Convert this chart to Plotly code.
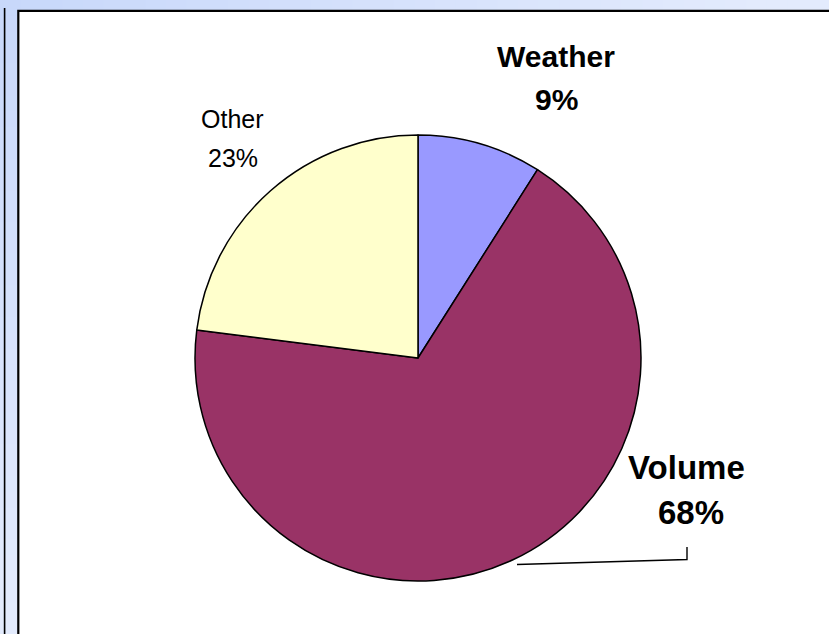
import plotly.graph_objects as go

# Share of the variance by driver
labels = ["Weather", "Volume", "Other"]
values = [9, 68, 23]
colors = ["#9999ff", "#993366", "#ffffcc"]

W, H = 829, 634


def px(x):
    return x / W


def py(y):
    return 1 - y / H


def mix(c1, c2, t):
    a = [int(c1[i:i + 2], 16) for i in (1, 3, 5)]
    b = [int(c2[i:i + 2], 16) for i in (1, 3, 5)]
    return "#" + "".join(f"{round(a[k] + (b[k] - a[k]) * t):02x}" for k in range(3))


BLUE_DARK, BLUE_LIGHT = "#c8d8fa", "#e3ebfd"

shapes = []
# slide backdrop: soft blue gradient strips along the top and left edges
n = 40
for i in range(n):
    t0, t1 = i / n, (i + 1) / n
    shapes.append(dict(type="rect", xref="paper", yref="paper", layer="below",
                       x0=t0, x1=t1 + 0.002, y0=py(12), y1=1,
                       fillcolor=mix(BLUE_DARK, BLUE_LIGHT, min(1, t0 * 1.1)),
                       line=dict(width=0)))
    shapes.append(dict(type="rect", xref="paper", yref="paper", layer="below",
                       x0=0, x1=px(19), y0=1 - t1 - 0.002, y1=1 - t0,
                       fillcolor=mix(BLUE_DARK, BLUE_LIGHT, min(1, t0 * 1.05)),
                       line=dict(width=0)))
# white chart panel with black border on top and left
shapes.append(dict(type="rect", xref="paper", yref="paper", layer="below",
                   x0=px(18.3), x1=1.01, y0=-0.01, y1=py(10.8),
                   fillcolor="white", line=dict(color="black", width=2.2)))
# outer thin rule on the far left
shapes.append(dict(type="line", xref="paper", yref="paper",
                   x0=px(4.6), x1=px(4.6), y0=0, y1=py(8),
                   line=dict(color="black", width=1.6)))
# leader line for the Volume label
shapes.append(dict(type="path", xref="paper", yref="paper",
                   path=f"M {px(517)},{py(564.5)} L {px(687)},{py(559.5)} L {px(687)},{py(547)}",
                   line=dict(color="black", width=1.4)))

total = sum(values)
pct = [f"{v / total * 100:.0f}%" for v in values]

# label placement (name line, percent line) and styling
label_pos = {
    "Weather": ((556, 56), (556, 99), 30, "bold"),
    "Volume": ((686, 467), (691, 512), 33, "bold"),
    "Other": ((232, 119), (233, 158), 25, "normal"),
}

annotations = []
for name, p in zip(labels, pct):
    (x1, y1), (x2, y2), size, weight = label_pos[name]
    for (x, y), txt in (((x1, y1), name), ((x2, y2), p)):
        annotations.append(dict(text=txt, x=px(x), y=py(y), xref="paper", yref="paper",
                                showarrow=False, xanchor="center", yanchor="middle",
                                font=dict(family="Arial, Liberation Sans, sans-serif",
                                          size=size, color="black", weight=weight)))

cx, cy, r = 418, 358, 223
fig = go.Figure(go.Pie(
    labels=labels,
    values=values,
    sort=False,
    direction="clockwise",
    rotation=0,
    textinfo="none",
    hoverinfo="label+percent",
    marker=dict(colors=colors, line=dict(color="black", width=1.5)),
    domain=dict(x=[px(cx - r), px(cx + r)], y=[py(cy + r), py(cy - r)]),
))

fig.update_layout(
    width=W, height=H,
    margin=dict(l=0, r=0, t=0, b=0),
    paper_bgcolor=BLUE_DARK,
    plot_bgcolor="white",
    showlegend=False,
    shapes=shapes,
    annotations=annotations,
)

fig.write_html("out.html")
